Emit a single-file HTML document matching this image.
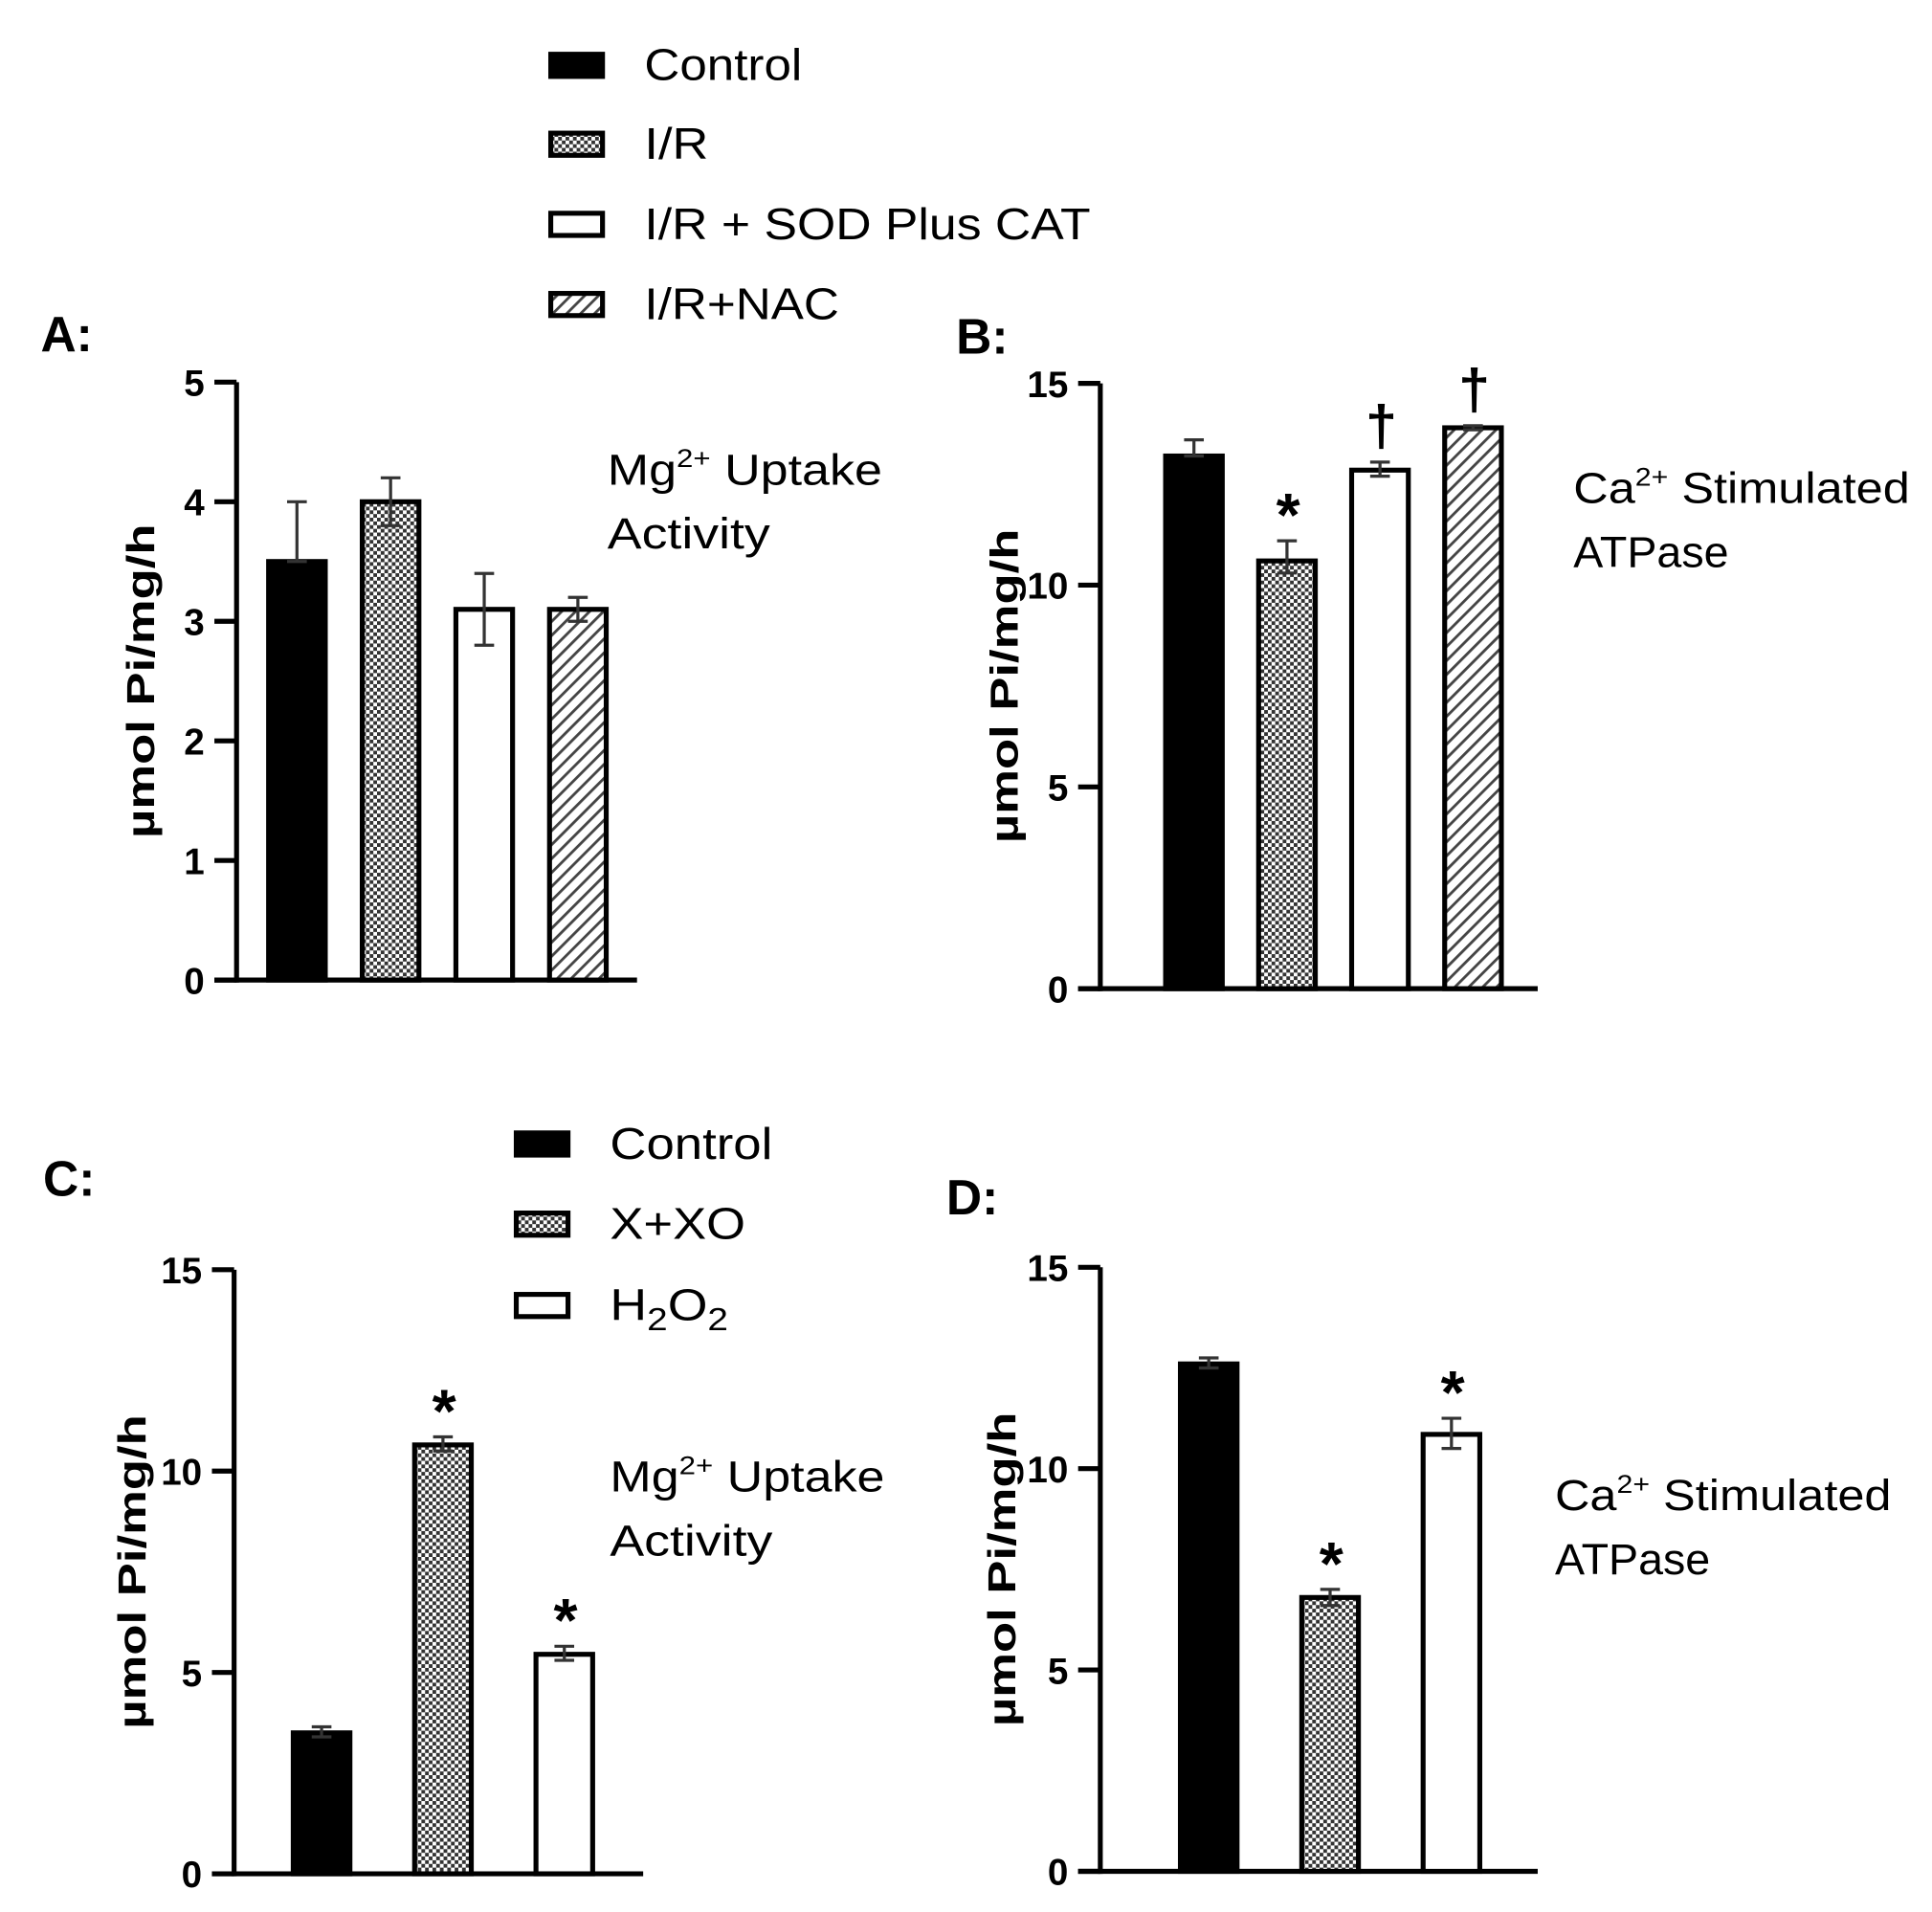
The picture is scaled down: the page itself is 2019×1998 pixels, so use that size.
<!DOCTYPE html>
<html><head><meta charset="utf-8"><style>
html,body{margin:0;padding:0;background:#fff;}
svg{display:block;}
text{font-family:"Liberation Sans",sans-serif;fill:#000;}
</style></head><body>
<svg id="fig" width="2019" height="1998" viewBox="0 0 1568 1551" preserveAspectRatio="none" xmlns="http://www.w3.org/2000/svg">
<defs>
<pattern id="cross" width="6" height="6" patternUnits="userSpaceOnUse">
<rect width="6" height="6" fill="#fff"/><rect width="3" height="3" fill="#333"/><rect x="3" y="3" width="3" height="3" fill="#333"/>
</pattern>
<pattern id="diag" width="8" height="8" patternUnits="userSpaceOnUse" patternTransform="rotate(45)">
<rect width="8" height="8" fill="#fff"/><rect width="2.2" height="8" fill="#444"/>
</pattern>
</defs>
</svg>
<script>
// Panel A data
const catsA = ['Control','I/R','I/R + SOD Plus CAT','I/R+NAC'];
const valsA = [3.5, 4.0, 3.1, 3.1];
const errUpA = [4.0, 4.2, 3.4, 3.2];
const errDnA = [3.5, 3.8, 2.8, 3.0];
const ticksA = [0,1,2,3,4,5];
const marksA = ['', '', '', ''];
// Panel B data
const catsB = ['Control','I/R','I/R + SOD Plus CAT','I/R+NAC'];
const valsB = [13.2, 10.6, 12.85, 13.9];
const errUpB = [13.6, 11.1, 13.05, 13.95];
const errDnB = [13.2, 10.3, 12.7, 13.85];
const ticksB = [0,5,10,15];
const marksB = ['', '*', '†', '†'];
// Panel C data
const catsC = ['Control','X+XO','H2O2'];
const valsC = [3.5, 10.65, 5.45];
const errUpC = [3.65, 10.85, 5.65];
const errDnC = [3.4, 10.5, 5.3];
const ticksC = [0,5,10,15];
const marksC = ['', '*', '*'];
// Panel D data
const catsD = ['Control','X+XO','H2O2'];
const valsD = [12.6, 6.8, 10.85];
const errUpD = [12.75, 7.0, 11.25];
const errDnD = [12.5, 6.6, 10.5];
const ticksD = [0,5,10,15];
const marksD = ['', '*', '*'];

const svg = document.getElementById('fig');
const NS = 'http://www.w3.org/2000/svg';
function mk(tag, attrs, parent){
  const e = document.createElementNS(NS, tag);
  for (const k in attrs) e.setAttribute(k, attrs[k]);
  (parent||svg).appendChild(e);
  return e;
}
const fills = {solid:'#000', cross:'url(#cross)', white:'#fff', diag:'url(#diag)'};

function panel(id, cfg, cats, vals, up, dn, ticks, marks){
  const g = mk('g', {});
  
  
  const max = ticks[ticks.length-1];
  const y = v => cfg.y0 - (cfg.y0 - cfg.yTop) * v / max;
  const ya = mk('line', {x1:cfg.ax, y1:cfg.yTop, x2:cfg.ax, y2:cfg.y0+2, stroke:'#000','stroke-width':4}, g);
  
  
  const xa = mk('line', {x1:cfg.ax-18, y1:cfg.y0, x2:cfg.xEnd, y2:cfg.y0, stroke:'#000','stroke-width':4}, g);
  
  
  ticks.forEach(t => {
    const tk = mk('line', {x1:cfg.ax-18, y1:y(t), x2:cfg.ax, y2:y(t), stroke:'#000','stroke-width':4}, g);
    
    
    const tl = mk('text', {x:cfg.ax-26, y:y(t)+11, 'text-anchor':'end','font-size':30,'font-weight':'bold'}, g);
    tl.textContent = t;
    
    
  });
  cats.forEach((c, i) => {
    const x0 = cfg.x0 + i * cfg.step, w = cfg.bw;
    const b = mk('rect', {x:x0, y:y(vals[i]), width:w, height:cfg.y0 - y(vals[i]), fill:fills[cfg.fills[i]], stroke:'#000','stroke-width':4}, g);
    
    
    const cx = x0 + w/2;
    const e = mk('path', {d:`M${cx},${y(dn[i])}V${y(up[i])}M${cx-8},${y(up[i])}H${cx+8}M${cx-8},${y(dn[i])}H${cx+8}`, stroke:'#333','stroke-width':2.5, fill:'none'}, g);
    
    
    if (marks[i]) {
      const m = mk('text', {x:cx+1, y:y(up[i]) - (marks[i]==='*'?4:14), 'text-anchor':'middle','font-size':marks[i]==='*'?50:46,'font-weight':'bold'}, g);
      m.textContent = marks[i];
      
      
    }
  });
  const yt = mk('text', {x:0, y:0, transform:`translate(${cfg.titleX},${(cfg.yTop+cfg.y0)/2}) rotate(-90)`, 'text-anchor':'middle','font-size':32,'font-weight':'bold', textLength:255, lengthAdjust:'spacingAndGlyphs'}, g);
  yt.textContent = 'µmol Pi/mg/h';
  
  
  const lb = mk('text', {x:cfg.lx, y:cfg.ly, 'font-size':40,'font-weight':'bold'}, g);
  lb.textContent = id + ':';
  
  
  const a1 = mk('text', {x:cfg.nx, y:cfg.ny, 'font-size':35, textLength:cfg.w1, lengthAdjust:'spacingAndGlyphs'}, g);
  a1.innerHTML = cfg.ion + '<tspan font-size="21" dy="-14">2+</tspan><tspan dy="14"> ' + cfg.n1 + '</tspan>';
  
  
  const a2 = mk('text', {x:cfg.nx, y:cfg.ny+52, 'font-size':35, textLength:cfg.w2, lengthAdjust:'spacingAndGlyphs'}, g);
  a2.textContent = cfg.n2;
  
  
}

panel('A', {ax:192,y0:795,yTop:310,xEnd:517,x0:218,step:76,bw:46,fills:['solid','cross','white','diag'],titleX:125,lx:33,ly:285,nx:493,ny:393,ion:'Mg',n1:'Uptake',n2:'Activity',w1:223,w2:132}, catsA, valsA, errUpA, errDnA, ticksA, marksA);
panel('B', {ax:893,y0:802,yTop:311,xEnd:1248,x0:946,step:75.5,bw:46,fills:['solid','cross','white','diag'],titleX:826,lx:776,ly:287,nx:1277,ny:408,ion:'Ca',n1:'Stimulated',n2:'ATPase',w1:273,w2:126}, catsB, valsB, errUpB, errDnB, ticksB, marksB);
panel('C', {ax:190,y0:1520,yTop:1030,xEnd:522,x0:238,step:98.5,bw:46,fills:['solid','cross','white'],titleX:118,lx:35,ly:970,nx:495,ny:1210,ion:'Mg',n1:'Uptake',n2:'Activity',w1:223,w2:132}, catsC, valsC, errUpC, errDnC, ticksC, marksC);
panel('D', {ax:893,y0:1518,yTop:1028,xEnd:1248,x0:958,step:98.5,bw:46,fills:['solid','cross','white'],titleX:824,lx:768,ly:985,nx:1262,ny:1225,ion:'Ca',n1:'Stimulated',n2:'ATPase',w1:273,w2:126}, catsD, valsD, errUpD, errDnD, ticksD, marksD);

function legend(items, sx, tx, ys, name){
  const g = mk('g', {});
  
  
  items.forEach((it, i) => {
    const e = mk('g', {}, g);
    
    
    mk('rect', {x:sx+2, y:ys[i]+2, width:42, height:18, fill:fills[it[1]], stroke:'#000','stroke-width':4}, e);
    const t = mk('text', {x:tx, y:ys[i]+23, 'font-size':36, textLength:it[2], lengthAdjust:'spacingAndGlyphs'}, e);
    t.innerHTML = it[0];
  });
}
legend([['Control','solid',128],['I/R','cross',52],['I/R + SOD Plus CAT','white',362],['I/R+NAC','diag',158]], 445, 523, [42,106,171,236], 'legend-top');
legend([['Control','solid',132],['X+XO','cross',110],['H<tspan font-size="26" dy="8">2</tspan><tspan dy="-8">O</tspan><tspan font-size="26" dy="8">2</tspan>','white',96]], 417, 495, [917,982,1048], 'legend-bottom');
</script>
</body></html>
